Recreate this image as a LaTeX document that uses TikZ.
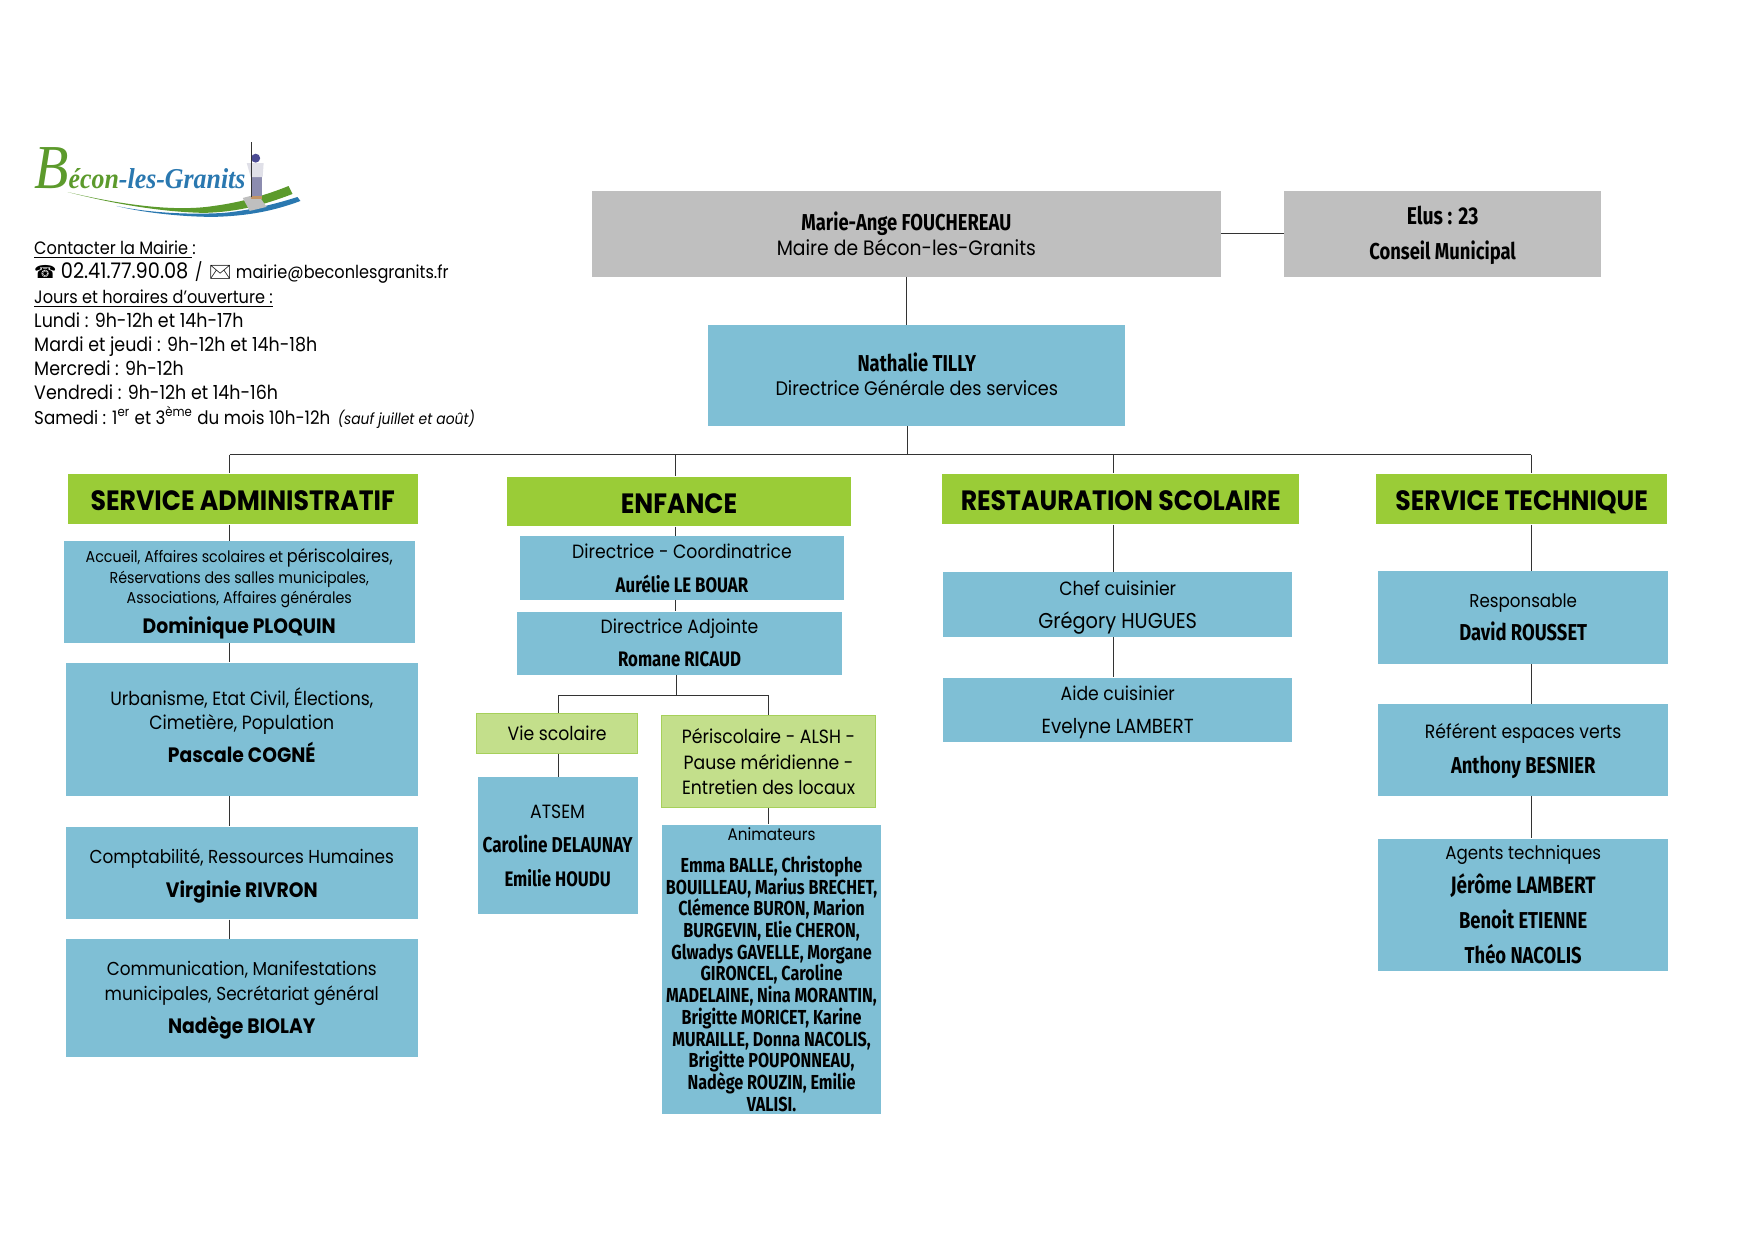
\documentclass[tikz,border=0pt]{standalone}
\usepackage{fontspec}
\setmainfont{Poppins}[FakeStretch=0.9]
\newfontfamily\narrowfont[FakeStretch=0.8,Scale=1.2]{Fira Sans}
\newfontfamily\iconfont{DejaVu Sans}
\newfontfamily\mailfont{Noto Emoji}
\newfontfamily\logofont[FakeStretch=0.9]{Liberation Serif}
\newcommand{\pname}[1]{{\narrowfont\bfseries #1}}
\newcommand{\sname}[2]{{\fontsize{#1}{12}\selectfont\narrowfont\bfseries #2}}
\newcommand{\wname}[1]{{\fontsize{10}{12}\selectfont\bfseries #1}}
\newcommand{\sized}[2]{{\fontsize{#1}{12}\selectfont #2}}
\newcommand{\hours}[1]{{\fontsize{9.3}{11.6}\selectfont #1}}
\newcommand{\topgap}[1]{\rule{0pt}{#1}}
\newcommand{\botgap}[1]{\rule[-#1]{0pt}{0pt}}
\lineskiplimit=-20pt
\normallineskiplimit=-20pt
\def\px{0.47733pt}
\definecolor{boxblue}{HTML}{7FBFD5}
\definecolor{boxgrey}{HTML}{BFBFBF}
\definecolor{headgreen}{HTML}{9ACC37}
\definecolor{limefill}{HTML}{C3DF8B}
\definecolor{limeline}{HTML}{A6D05A}
\definecolor{logogreen}{HTML}{5C9A2C}
\definecolor{logoblue}{HTML}{2A78B0}
\tikzset{
	orgbox/.style={inner sep=0pt, align=center, font=\fontsize{9.2}{12}\selectfont},
	bluebox/.style={orgbox, fill=boxblue},
	greybox/.style={orgbox, fill=boxgrey},
	headbox/.style={inner sep=0pt, fill=headgreen, text height=11.4pt, text depth=0pt, font=\fontsize{13.4}{14}\selectfont\bfseries},
	limebox/.style={orgbox, fill=limefill, draw=limeline, line width=0.5pt},
	link/.style={draw=black!80, line width=0.45pt},
}
\begin{document}
\begin{tikzpicture}[x=\px, y=-\px]
	\useasboundingbox (0,0) rectangle (1764,1247.3);

	\fill[logogreen] (68,193) .. controls (110,203) and (170,214) .. (215,207) .. controls (245,203) and (270,195) .. (290,187) -- (294,195) .. controls (265,206) and (240,213) .. (205,214) .. controls (160,213) and (110,204) .. cycle;
	\fill[logoblue] (117,207) .. controls (150,214) and (190,216) .. (225,214) .. controls (255,211) and (280,204) .. (299,198) -- (302,202) .. controls (275,212) and (250,217) .. (215,218) .. controls (180,218) and (140,213) .. cycle;
	\fill[black!25] (244,199) -- (259,195) -- (268,208) -- (251,212) -- cycle;
	\fill[orange!60!black!60] (252,196) rectangle (263,200);
	\fill[blue!30!black!45] (252,177) rectangle (263,197);
	\fill[blue!25!black!12] (248,164) -- (265,164) -- (264,178) -- (252,178) -- cycle;
	\fill[blue!40!black!70] (257,159) circle (4.5);
	\draw[black!80, line width=0.5pt] (253,143) -- (253,198);
	\node[anchor=base west, inner sep=0pt, font=\logofont\bfseries\itshape\fontsize{13.8}{14}\selectfont] (logo) at (34,189) {\textcolor{logogreen}{{\mdseries\fontsize{30}{30}\selectfont B}écon}\textcolor{logoblue}{-les-Granits}};

	\node[anchor=north west, inner sep=0pt, align=left, font=\fontsize{8.6}{11.6}\selectfont] (info) at (34,242) {\underline{Contacter la Mairie }:\\
		{\iconfont\fontsize{8.6}{11.6}\selectfont ☎} {\fontsize{10.3}{11.6}\selectfont 02.41.77.90.08} \hspace{1pt}/\hspace{1pt} {\mailfont ✉} mairie@beconlesgranits.fr\\
		\underline{Jours et horaires d’ouverture :}\\
		\hours{Lundi : 9h-12h et 14h-17h}\\
		\hours{Mardi et jeudi : 9h-12h et 14h-18h}\\
		\hours{Mercredi : 9h-12h}\\
		\hours{Vendredi : 9h-12h et 14h-16h}\\
		{\fontsize{8.9}{11.6}\selectfont Samedi : 1\textsuperscript{er} et 3\textsuperscript{ème} du mois 10h-12h}\hspace{1.5pt} {\fontsize{7.4}{11.6}\selectfont\itshape (sauf juillet et août)}};

	\node[greybox, minimum width=632*\px, minimum height=86*\px] (mayor) at (911,235) {\pname{Marie-Ange FOUCHEREAU}\\[0.4pt]\sized{10}{Maire de Bécon-les-Granits}};
	\node[greybox, minimum width=318*\px, minimum height=86*\px] (elus) at (1450,235) {\topgap{10.2pt}\sname{9.7}{Elus : 23}\\[4.8pt]\pname{Conseil Municipal}};
	\node[bluebox, minimum width=419*\px, minimum height=101*\px] (dgs) at (921.5,377.5) {\pname{Nathalie TILLY}\\[-0.5pt]\sized{9.4}{Directrice Générale des services}\botgap{1.6pt}};

	\coordinate (bustop) at (912,457);
	\coordinate (busadmin) at (231,457);
	\coordinate (busenf) at (679,457);
	\coordinate (busrest) at (1119,457);
	\coordinate (bustech) at (1539,457);

	\node[headbox, minimum width=352*\px, minimum height=51*\px] (headadmin) at (244,501.5) {SERVICE ADMINISTRATIF};
	\node[headbox, minimum width=345*\px, minimum height=50*\px] (headenf) at (682.5,504) {ENFANCE};
	\node[headbox, minimum width=359*\px, minimum height=51*\px] (headrest) at (1126.5,501.5) {RESTAURATION SCOLAIRE};
	\node[headbox, minimum width=293*\px, minimum height=51*\px] (headtech) at (1529.5,501.5) {SERVICE TECHNIQUE};

	\node[bluebox, minimum width=353*\px, minimum height=102*\px, font=\fontsize{7.6}{9.7}\selectfont] (admina) at (240.5,595) {\topgap{8.7pt}Accueil, Affaires scolaires et {\fontsize{8.6}{9.7}\selectfont périscolaires,}\\Réservations des salles municipales,\\Associations, Affaires générales\\[4.8pt]\wname{Dominique PLOQUIN}};
	\node[bluebox, minimum width=354*\px, minimum height=134*\px] (adminb) at (243,733) {Urbanisme, Etat Civil, Élections,\\[-0.4pt]Cimetière, Population\\[3.5pt]\wname{Pascale COGNÉ}\botgap{4.2pt}};
	\node[bluebox, minimum width=354*\px, minimum height=93*\px] (adminc) at (243,877.5) {\topgap{9.9pt}\sized{9}{Comptabilité, Ressources Humaines}\\[4.7pt]\wname{Virginie RIVRON}};
	\node[bluebox, minimum width=354*\px, minimum height=118*\px] (admind) at (243,1003) {\topgap{8.9pt}\sized{9}{Communication, Manifestations}\\\sized{9}{municipales, Secrétariat général}\\[3.7pt]\wname{Nadège BIOLAY}};

	\node[bluebox, minimum width=325*\px, minimum height=64*\px] (enfa) at (685.5,571) {Directrice - Coordinatrice\\[4.2pt]\sname{8.4}{Aurélie LE BOUAR}};
	\node[bluebox, minimum width=326*\px, minimum height=63*\px] (enfb) at (683,646.5) {Directrice Adjointe\\[3.7pt]\sname{8.4}{Romane RICAUD}};
	\coordinate (busvie) at (561,699);
	\coordinate (busperi) at (772,699);
	\coordinate (stemenf) at (680,699);
	\node[limebox, minimum width=162*\px, minimum height=40*\px] (vie) at (560,737) {Vie scolaire};
	\node[bluebox, minimum width=161*\px, minimum height=138*\px] (atsem) at (560.5,850) {ATSEM\\[4.2pt]\sname{8.6}{Caroline DELAUNAY}\\[4.2pt]\sname{8.4}{Emilie HOUDU}};
	\node[limebox, minimum width=215*\px, minimum height=93*\px] (peri) at (772.5,765.5) {Périscolaire - ALSH -\\Pause méridienne -\\Entretien des locaux};
	\node[bluebox, minimum width=221*\px, minimum height=291*\px, font=\fontsize{8.1}{10.4}\selectfont] (anim) at (775.5,974.5) {Animateurs\\[5pt]\pname{Emma BALLE, Christophe}\\\pname{BOUILLEAU, Marius BRECHET,}\\\pname{Clémence BURON, Marion}\\\pname{BURGEVIN, Elie CHERON,}\\\pname{Glwadys GAVELLE, Morgane}\\\pname{GIRONCEL, Caroline}\\\pname{MADELAINE, Nina MORANTIN,}\\\pname{Brigitte MORICET, Karine}\\\pname{MURAILLE, Donna NACOLIS,}\\\pname{Brigitte POUPONNEAU,}\\\pname{Nadège ROUZIN, Emilie}\\\pname{VALISI.}};

	\node[bluebox, minimum width=351*\px, minimum height=65*\px] (chef) at (1123.5,607.5) {\topgap{10.2pt}Chef cuisinier\\[3.7pt]\sized{10.3}{Grégory HUGUES}};
	\node[bluebox, minimum width=351*\px, minimum height=65*\px] (aide) at (1123.5,713.5) {\topgap{9.6pt}Aide cuisinier\\[4pt]\sized{9.8}{Evelyne LAMBERT}};

	\node[bluebox, minimum width=292*\px, minimum height=93*\px] (techa) at (1531,620.5) {\sized{8.9}{Responsable}\\[4.2pt]\pname{David ROUSSET}};
	\node[bluebox, minimum width=292*\px, minimum height=92*\px] (techb) at (1531,754) {\topgap{8.3pt}Référent espaces verts\\[4.7pt]\pname{Anthony BESNIER}};
	\node[bluebox, minimum width=292*\px, minimum height=133*\px] (techc) at (1531,909.5) {\sized{8.9}{Agents techniques}\\[4.2pt]\sname{9.5}{Jérôme LAMBERT}\\[4.5pt]\pname{Benoit ETIENNE}\\[5pt]\pname{Théo NACOLIS}};

	\draw[link] (mayor.east) -- (elus.west);
	\draw[link] (mayor.south) -- (mayor.south |- dgs.north);
	\draw[link] (bustop |- dgs.south) -- (bustop);
	\draw[link] (busadmin) -- (bustech);
	\draw[link] (busadmin) -- (busadmin |- headadmin.north);
	\draw[link] (busenf) -- (busenf |- headenf.north);
	\draw[link] (busrest) -- (busrest |- headrest.north);
	\draw[link] (bustech) -- (bustech |- headtech.north);
	\foreach \a/\b in {headadmin/admina, admina/adminb, adminb/adminc, adminc/admind}
		\draw[link] (busadmin |- \a.south) -- (busadmin |- \b.north);
	\foreach \a/\b in {headenf/enfa, enfa/enfb}
		\draw[link] (busenf |- \a.south) -- (busenf |- \b.north);
	\foreach \a/\b in {headrest/chef, chef/aide}
		\draw[link] (busrest |- \a.south) -- (busrest |- \b.north);
	\foreach \a/\b in {headtech/techa, techa/techb, techb/techc}
		\draw[link] (bustech |- \a.south) -- (bustech |- \b.north);
	\draw[link] (stemenf |- enfb.south) -- (stemenf);
	\draw[link] (busvie) -- (busperi);
	\draw[link] (busvie) -- (busvie |- vie.north);
	\draw[link] (busperi) -- (busperi |- peri.north);
	\draw[link] (busvie |- vie.south) -- (busvie |- atsem.north);
	\draw[link] (busperi |- peri.south) -- (busperi |- anim.north);
\end{tikzpicture}
\end{document}
